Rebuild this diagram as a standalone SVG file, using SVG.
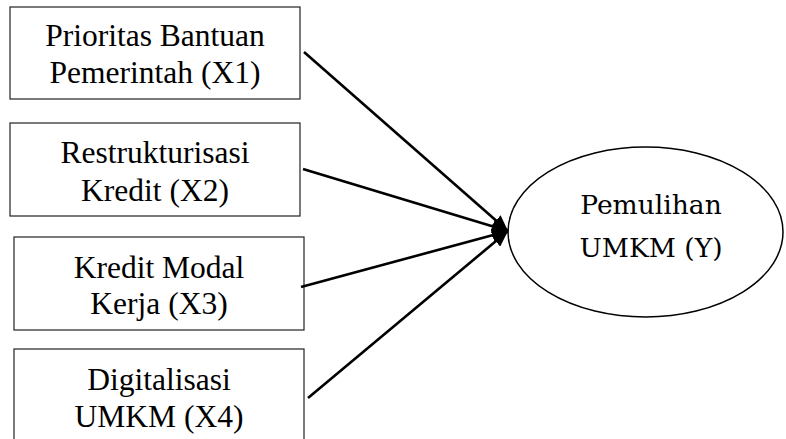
<svg xmlns="http://www.w3.org/2000/svg" width="786" height="439" viewBox="0 0 786 439">
<defs>
<style>
.box{fill:#fff;stroke:#222;stroke-width:1.2}
.bt{font-family:"Liberation Serif","Times New Roman",serif;font-size:31.5px;fill:#000;text-anchor:middle}
.et{font-family:"DejaVu Serif","Liberation Serif",serif;font-size:26.5px;fill:#000;text-anchor:middle}
.con{stroke:#000;stroke-width:2.6;fill:none;marker-end:url(#ah)}
</style>
<marker id="ah" markerUnits="userSpaceOnUse" markerWidth="18" markerHeight="14" refX="16" refY="7" orient="auto">
<path d="M0,0 L16,7 L0,14 Z" fill="#000"/>
</marker>
</defs>
<rect width="786" height="439" fill="#fff"/>
<g id="x1">
<rect class="box" x="10" y="7" width="290" height="92"/>
<text class="bt" x="155" y="46">Prioritas Bantuan</text>
<text class="bt" x="155" y="83">Pemerintah (X1)</text>
</g>
<g id="x2">
<rect class="box" x="10" y="123" width="290" height="93"/>
<text class="bt" x="155" y="163">Restrukturisasi</text>
<text class="bt" x="155" y="201">Kredit (X2)</text>
</g>
<g id="x3">
<rect class="box" x="14" y="237" width="290" height="93"/>
<text class="bt" x="159" y="278">Kredit Modal</text>
<text class="bt" x="159" y="314">Kerja (X3)</text>
</g>
<g id="x4">
<rect class="box" x="14" y="349" width="290" height="100"/>
<text class="bt" x="159" y="390">Digitalisasi</text>
<text class="bt" x="159" y="427">UMKM (X4)</text>
</g>
<g id="y">
<ellipse cx="645.5" cy="232" rx="137.5" ry="85" fill="#fff" stroke="#000" stroke-width="1.5"/>
<text class="et" x="651" y="214">Pemulihan</text>
<text class="et" x="651" y="257">UMKM (Y)</text>
</g>
<g id="connectors">
<line class="con" x1="304" y1="52" x2="508" y2="231"/>
<line class="con" x1="303" y1="169" x2="508" y2="231"/>
<line class="con" x1="301" y1="287" x2="508" y2="231"/>
<line class="con" x1="308" y1="398" x2="508" y2="231"/>
</g>
</svg>
